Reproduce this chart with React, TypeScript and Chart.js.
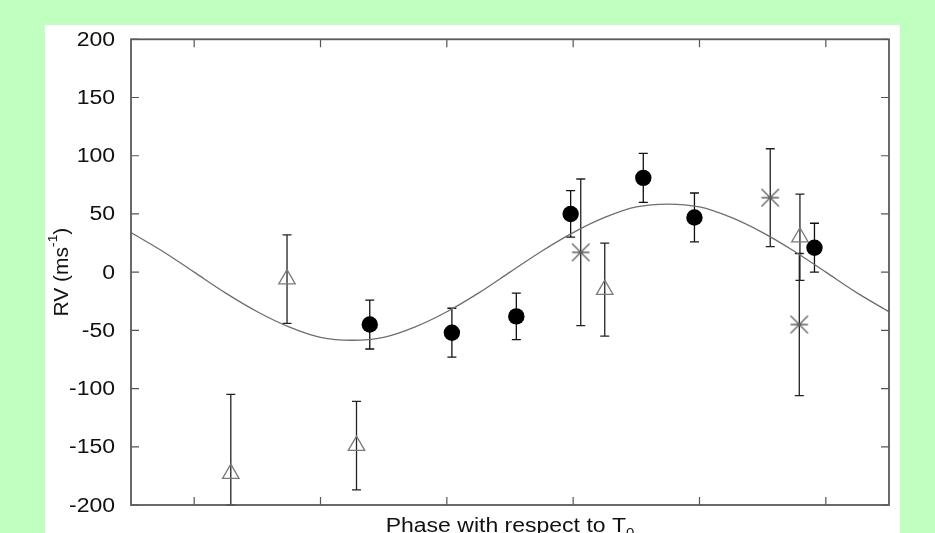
import React, { useEffect, useRef } from "react";
import { Chart, registerables } from "chart.js";

Chart.register(...registerables);

// ---- data ----
const xTicks = [0, 0.2, 0.4, 0.6, 0.8, 1.0];
const yTicks = [-200, -150, -100, -50, 0, 50, 100, 150, 200];

// filled circles
const circPhase = [0.278, 0.408, 0.51, 0.596, 0.711, 0.792, 0.982];
const circRV = [-45, -52, -38, 50, 81, 47, 21];
const circErr = [21, 21, 20, 20, 21, 21, 21];

// open triangles
const triPhase = [0.058, 0.147, 0.257, 0.65, 0.959];
const triRV = [-173, -6, -149, -15, 30];
const triErr = [68, 38, 38, 40, 37];

// asterisks
const starPhase = [0.612, 0.912, 0.958];
const starRV = [17, 64, -45];
const starErr = [63, 42, 61];

// fitted curve
const curvePhase = [-0.1, -0.05, 0, 0.05, 0.1, 0.15, 0.2, 0.25, 0.3, 0.35, 0.4, 0.45, 0.5, 0.55, 0.6, 0.65, 0.7, 0.75, 0.8, 0.85, 0.9, 0.95, 1.0, 1.05, 1.1];
const curveRV = [34, 18, 0, -18, -34, -47, -56, -58.5, -56, -47, -34, -18, 0, 18, 34, 47, 56, 58.5, 56, 47, 34, 18, 0, -18, -34];

const FONT = "'Liberation Sans', Arial, Helvetica, sans-serif";
const STRETCH = 1.15;

function makeStar(): HTMLCanvasElement {
  const c = document.createElement("canvas");
  c.width = 20;
  c.height = 20;
  const g = c.getContext("2d")!;
  g.strokeStyle = "#5f5f5f";
  g.lineWidth = 1.3;
  const m = 10, r = 8.7;
  g.beginPath();
  g.moveTo(m - r, m); g.lineTo(m + r, m);
  g.moveTo(m - r, m - r); g.lineTo(m + r, m + r);
  g.moveTo(m - r, m + r); g.lineTo(m + r, m - r);
  g.stroke();
  return c;
}

// draw text horizontally stretched; align: 'left' | 'right'
function stretchedText(ctx: CanvasRenderingContext2D, text: string, x: number, y: number, align: "left" | "right") {
  ctx.save();
  ctx.translate(x, y);
  ctx.scale(STRETCH, 1);
  ctx.textAlign = align;
  ctx.fillText(text, 0, 0);
  ctx.restore();
}

export default function App() {
  const ref = useRef<HTMLCanvasElement | null>(null);

  useEffect(() => {
    if (!ref.current) return;
    const star = makeStar();

    const errorSets = [
      { x: circPhase, y: circRV, e: circErr, color: "#111" },
      { x: triPhase, y: triRV, e: triErr, color: "#222" },
      { x: starPhase, y: starRV, e: starErr, color: "#222" },
    ];

    const framePlugin = {
      id: "frame",
      beforeDatasetsDraw(chart: any) {
        const { ctx, scales } = chart;
        const xs = scales.x, ys = scales.y;
        ctx.save();
        ctx.lineWidth = 1.3;
        for (const s of errorSets) {
          ctx.strokeStyle = s.color;
          for (let i = 0; i < s.x.length; i++) {
            const px = xs.getPixelForValue(s.x[i]);
            const lo = Math.max(s.y[i] - s.e[i], ys.min);
            const hi = Math.min(s.y[i] + s.e[i], ys.max);
            const p1 = ys.getPixelForValue(lo);
            const p2 = ys.getPixelForValue(hi);
            ctx.beginPath();
            ctx.moveTo(px, p1); ctx.lineTo(px, p2);
            ctx.moveTo(px - 4.5, p1); ctx.lineTo(px + 4.5, p1);
            ctx.moveTo(px - 4.5, p2); ctx.lineTo(px + 4.5, p2);
            ctx.stroke();
          }
        }
        ctx.restore();
      },
      afterDraw(chart: any) {
        const { ctx, chartArea: a, scales } = chart;
        const xs = scales.x, ys = scales.y;
        ctx.save();
        // inward ticks
        ctx.strokeStyle = "#555";
        ctx.lineWidth = 1.2;
        const tl = 8;
        ctx.beginPath();
        for (const v of yTicks) {
          const py = ys.getPixelForValue(v);
          ctx.moveTo(a.left, py); ctx.lineTo(a.left + tl, py);
          ctx.moveTo(a.right, py); ctx.lineTo(a.right - tl, py);
        }
        for (const v of xTicks) {
          const px = xs.getPixelForValue(v);
          ctx.moveTo(px, a.top); ctx.lineTo(px, a.top + tl);
          ctx.moveTo(px, a.bottom); ctx.lineTo(px, a.bottom - tl);
        }
        ctx.stroke();
        // frame
        ctx.strokeStyle = "#5a5a5a";
        ctx.lineWidth = 1.8;
        ctx.strokeRect(a.left, a.top, a.right - a.left, a.bottom - a.top);

        // y tick labels
        ctx.fillStyle = "#111";
        ctx.font = `20px ${FONT}`;
        ctx.textBaseline = "middle";
        for (const v of yTicks) {
          const py = ys.getPixelForValue(v);
          stretchedText(ctx, String(v), a.left - 16, py + 1, "right");
        }
        ctx.restore();

        // y title with superscript
        ctx.save();
        ctx.fillStyle = "#111";
        const main = "RV (ms";
        const sup = "-1";
        const close = ")";
        ctx.font = `20px ${FONT}`;
        const w1 = ctx.measureText(main).width;
        const w3 = ctx.measureText(close).width;
        ctx.font = `13px ${FONT}`;
        const w2 = ctx.measureText(sup).width;
        const total = w1 + w2 + w3;
        ctx.translate(a.left - 69, (a.top + a.bottom) / 2);
        ctx.rotate(-Math.PI / 2);
        ctx.scale(1.05, 1);
        ctx.textBaseline = "middle";
        ctx.textAlign = "left";
        const x0 = -total / 2;
        ctx.font = `20px ${FONT}`;
        ctx.fillText(main, x0, 0);
        ctx.font = `13px ${FONT}`;
        ctx.fillText(sup, x0 + w1, -9);
        ctx.font = `20px ${FONT}`;
        ctx.fillText(close, x0 + w1 + w2, 0);
        ctx.restore();

        // x title with subscript
        ctx.save();
        ctx.fillStyle = "#111";
        const t = "Phase with respect to T";
        const sub = "0";
        ctx.font = `20px ${FONT}`;
        const tw = ctx.measureText(t).width * STRETCH;
        ctx.font = `13px ${FONT}`;
        const sw = ctx.measureText(sub).width * STRETCH;
        const cx = (a.left + a.right) / 2;
        const base = a.bottom + 27;
        ctx.textBaseline = "alphabetic";
        ctx.font = `20px ${FONT}`;
        const left = cx - (tw + sw) / 2;
        stretchedText(ctx, t, left, base, "left");
        ctx.font = `13px ${FONT}`;
        stretchedText(ctx, sub, left + tw, base + 5, "left");
        ctx.restore();
      },
    };

    const toPts = (xa: number[], ya: number[]) => xa.map((x, i) => ({ x, y: ya[i] }));

    const chart = new Chart(ref.current, {
      type: "scatter",
      data: {
        datasets: [
          {
            label: "fit",
            data: toPts(curvePhase, curveRV),
            showLine: true,
            borderColor: "#6e6e6e",
            borderWidth: 1.3,
            pointRadius: 0,
            cubicInterpolationMode: "monotone",
            order: 4,
          } as any,
          {
            label: "triangles",
            data: toPts(triPhase, triRV),
            pointStyle: "triangle",
            pointRadius: 9.5,
            borderColor: "#7a7a7a",
            borderWidth: 1.3,
            backgroundColor: "rgba(0,0,0,0)",
            order: 2,
          },
          {
            label: "stars",
            data: toPts(starPhase, starRV),
            pointStyle: star as any,
            pointRadius: 10,
            order: 3,
          },
          {
            label: "circles",
            data: toPts(circPhase, circRV),
            pointStyle: "circle",
            pointRadius: 8.2,
            borderWidth: 0,
            backgroundColor: "#000",
            order: 1,
          },
        ],
      },
      options: {
        animation: false,
        responsive: false,
        layout: { padding: { top: 14.3, right: 11, bottom: 80, left: 86 } },
        plugins: { legend: { display: false }, tooltip: { enabled: false } },
        scales: {
          x: { type: "linear", min: -0.1, max: 1.1, display: false },
          y: { type: "linear", min: -200, max: 200, display: false },
        },
      },
      plugins: [framePlugin],
    });
    return () => chart.destroy();
  }, []);

  return (
    <div style={{ position: "fixed", left: 0, top: 0, width: 935, height: 533, overflow: "hidden", background: "#c0ffc0" }}>
      <div style={{ position: "absolute", left: 45, top: 25, width: 855, height: 560, background: "#fff" }}>
        <canvas ref={ref} width={855} height={560} style={{ display: "block" }} />
      </div>
    </div>
  );
}
